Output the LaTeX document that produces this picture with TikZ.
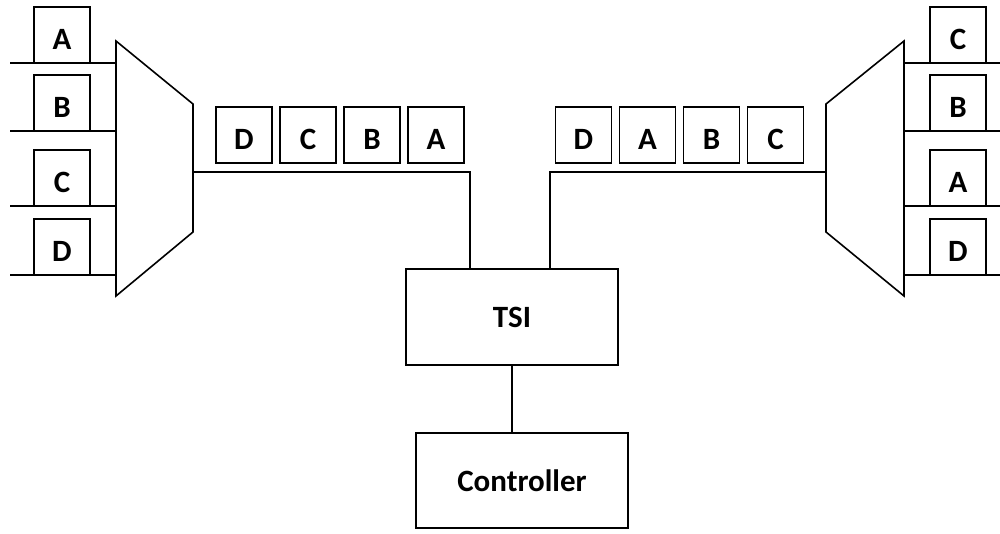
\documentclass[tikz,border=0pt]{standalone}
\usepackage{fontspec}
\setmainfont{Carlito}
\usetikzlibrary{positioning}

\begin{document}
\begin{tikzpicture}[x=1pt,y=-1pt,line width=1.6pt,node distance=8pt,
        slot/.style={draw,outer sep=0pt,inner sep=0pt,minimum size=56pt,text height=28pt,text depth=0pt,font=\fontsize{31}{36}\selectfont\bfseries},
        unit/.style={draw,outer sep=0pt,minimum width=212pt,minimum height=96pt,font=\fontsize{31}{36}\selectfont\bfseries}]
        \useasboundingbox (0,0) rectangle (1000,533);
        % multiplexer and demultiplexer
        \coordinate (mnw) at (116,41);  \coordinate (mne) at (193,104);
        \coordinate (mse) at (193,232); \coordinate (msw) at (116,296);
        \coordinate (mout) at (193,172);
        \coordinate (dnw) at (826,104); \coordinate (dne) at (904,41);
        \coordinate (dse) at (904,296); \coordinate (dsw) at (826,232);
        \coordinate (din) at (826,172);
        \draw (mnw) -- (mne) -- (mse) -- (msw) -- cycle;
        \draw (dnw) -- (dne) -- (dse) -- (dsw) -- cycle;
        % input channels
        \node[slot] (inA) at (62,35) {A};
        \node[slot] (inB) at (62,103) {B};
        \node[slot] (inC) at (62,178) {C};
        \node[slot] (inD) at (62,247) {D};
        \foreach \n in {inA,inB,inC,inD}
            \draw ([xshift=-24pt]\n.south west) -- (\n.south -| mnw);
        % output channels
        \node[slot] (outC) at (958,35) {C};
        \node[slot] (outB) at (958,103) {B};
        \node[slot] (outA) at (958,178) {A};
        \node[slot] (outD) at (958,247) {D};
        \foreach \n in {outC,outB,outA,outD}
            \draw (\n.south -| dne) -- ([xshift=14pt]\n.south east);
        % frames before and after switching
        \node[slot] (qD) at (244,135) {D};
        \node[slot,right=of qD] (qC) {C};
        \node[slot,right=of qC] (qB) {B};
        \node[slot,right=of qB] (qA) {A};
        \node[slot] (rD) at (583.5,135) {D};
        \node[slot,right=of rD] (rA) {A};
        \node[slot,right=of rA] (rB) {B};
        \node[slot,right=of rB] (rC) {C};
        % switch and its controller
        \node[unit] (tsi) at (512,317) {TSI};
        \node[unit,minimum height=95pt] (ctrl) at (522,480.5) {Controller};
        \draw (mout) -| ([xshift=-42pt]tsi.north);
        \draw ([xshift=38pt]tsi.north) |- (din);
        \draw (tsi.south) -- (tsi.south |- ctrl.north);
    \end{tikzpicture}
\end{document}
